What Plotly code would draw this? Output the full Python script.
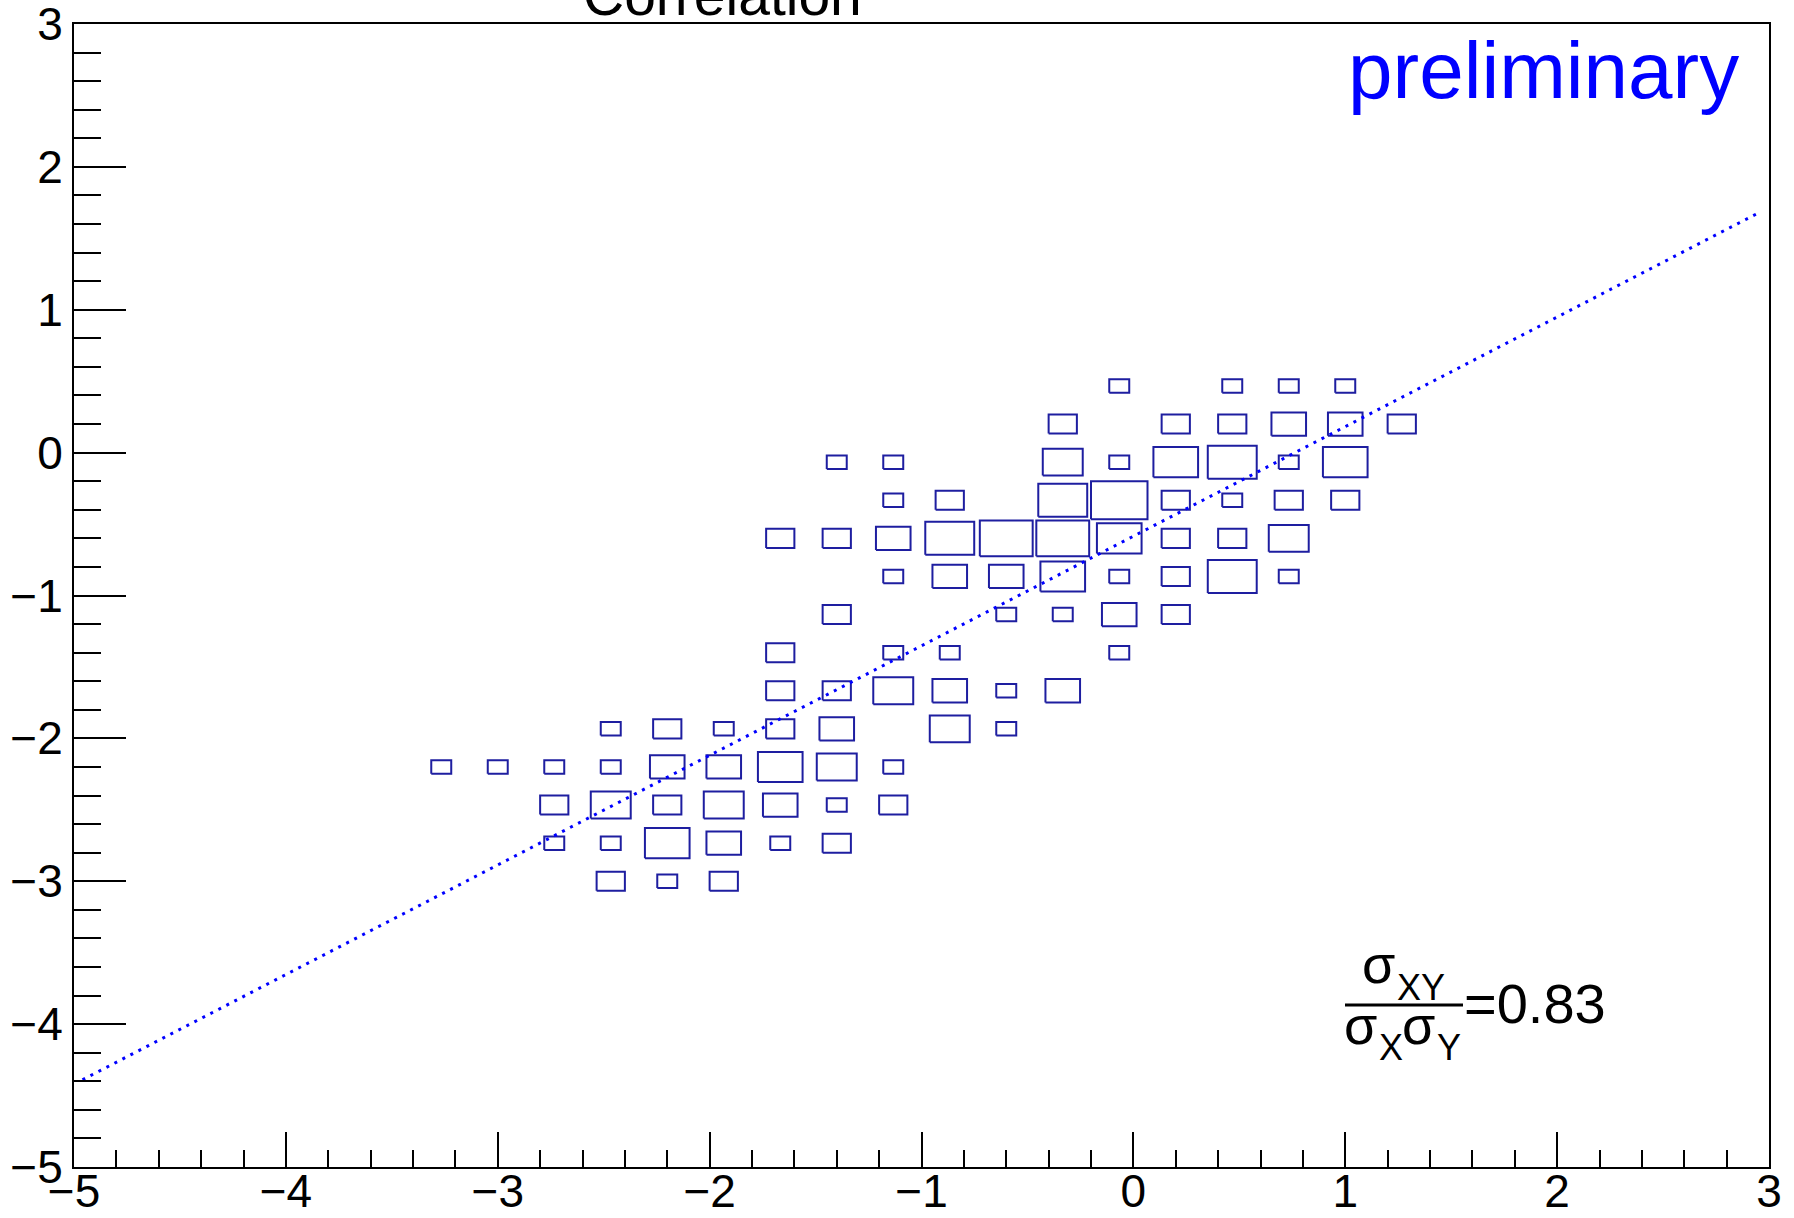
import plotly.graph_objects as go
import numpy as np

# ---- histogram binning (TH2, 30x30 bins on [-5,3] x [-5,3]) ----
n_bins = 30
axis_min, axis_max = -5.0, 3.0

# ---- bin contents (x-bin index, y-bin index, count) ----
bin_ix = [9, 10, 11,
          8, 9, 10, 11, 12, 13,
          8, 9, 10, 11, 12, 13, 14,
          6, 7, 8, 9, 10, 11, 12, 13, 14,
          9, 10, 11, 12, 13, 15, 16,
          12, 13, 14, 15, 16, 17,
          12, 14, 15, 18,
          13, 16, 17, 18, 19,
          14, 15, 16, 17, 18, 19, 20, 21,
          12, 13, 14, 15, 16, 17, 18, 19, 20, 21,
          14, 15, 17, 18, 19, 20, 21, 22,
          13, 14, 17, 18, 19, 20, 21, 22,
          17, 19, 20, 21, 22, 23,
          18, 20, 21, 22]
bin_iy = [7, 7, 7,
          8, 8, 8, 8, 8, 8,
          9, 9, 9, 9, 9, 9, 9,
          10, 10, 10, 10, 10, 10, 10, 10, 10,
          11, 11, 11, 11, 11, 11, 11,
          12, 12, 12, 12, 12, 12,
          13, 13, 13, 13,
          14, 14, 14, 14, 14,
          15, 15, 15, 15, 15, 15, 15, 15,
          16, 16, 16, 16, 16, 16, 16, 16, 16, 16,
          17, 17, 17, 17, 17, 17, 17, 17,
          18, 18, 18, 18, 18, 18, 18, 18,
          19, 19, 19, 19, 19, 19,
          20, 20, 20, 20]
bin_count = [2, 1, 2,
             1, 1, 5, 3, 1, 2,
             2, 4, 2, 4, 3, 1, 2,
             1, 1, 1, 1, 3, 3, 5, 4, 1,
             1, 2, 1, 2, 3, 4, 1,
             2, 2, 4, 3, 1, 3,
             2, 1, 1, 1,
             2, 1, 1, 3, 2,
             1, 3, 3, 5, 1, 2, 6, 1,
             2, 2, 3, 6, 7, 7, 5, 2, 2, 4,
             1, 2, 6, 8, 2, 1, 2, 2,
             1, 1, 4, 1, 5, 6, 1, 5,
             2, 2, 2, 3, 3, 2,
             1, 1, 1, 1]

# ---- linear fit drawn as dotted line ----
fit_slope = 0.767
fit_intercept = -0.585
fit_xmin, fit_xmax = -4.96, 2.96
corr_text = "=0.83"

# ---- figure geometry ----
W, H = 1794, 1218
ML, MR, MT, MB = 74, 25, 24, 51
PW, PH = W - ML - MR, H - MT - MB

BOX_COLOR = "rgb(30,30,160)"
FONT = "Liberation Sans, Arial, Helvetica, sans-serif"

bw = (axis_max - axis_min) / n_bins
cmax = max(bin_count)
xs, ys = [], []
for i, j, c in zip(bin_ix, bin_iy, bin_count):
    xc = axis_min + (i + 0.5) * bw
    yc = axis_min + (j + 0.5) * bw
    h = 0.5 * bw * np.sqrt(c / cmax)
    xs += [xc - h, xc + h, xc + h, xc - h, xc - h, None]
    ys += [yc - h, yc - h, yc + h, yc + h, yc - h, None]

fig = go.Figure()
fig.add_trace(go.Scatter(x=xs, y=ys, mode="lines",
                         line=dict(color=BOX_COLOR, width=2),
                         hoverinfo="skip", showlegend=False))

fx = np.array([fit_xmin, fit_xmax])
fy = fit_intercept + fit_slope * fx
fig.add_trace(go.Scatter(x=fx, y=fy, mode="lines",
                         line=dict(color="rgb(0,0,255)", width=3, dash="3px,6px"),
                         hoverinfo="skip", showlegend=False))


def px2paper(xp, yp):
    return (xp - ML) / PW, (MT + PH - yp) / PH


annotations = []


def place(text, x_px, base_px, size, color="black", xanchor="left"):
    bottom = base_px + 0.24 * size
    xp, yp = px2paper(x_px, bottom)
    annotations.append(dict(text=text, x=xp, y=yp, xref="paper", yref="paper",
                            xanchor=xanchor, yanchor="bottom", showarrow=False,
                            borderpad=0,
                            font=dict(family=FONT, size=size, color=color)))


# title (cut at the top of the canvas)
place("Correlation", 722, 14, 57, xanchor="center")
# preliminary
place("preliminary", 1347, 97, 80, color="rgb(0,0,255)")
# correlation fraction
place("σ", 1361, 982, 54)
place("XY", 1396, 1000, 36)
place("σ", 1343, 1043, 54)
place("X", 1378, 1060, 36)
place("σ", 1401, 1043, 54)
place("Y", 1436, 1060, 36)
place(corr_text, 1463, 1023, 56)

bx0, by0 = px2paper(1345, 1005)
bx1, _ = px2paper(1463, 1005)
fig.add_shape(type="line", xref="paper", yref="paper", x0=bx0, x1=bx1, y0=by0, y1=by0,
              line=dict(color="black", width=3))

axis_common = dict(range=[axis_min, axis_max], showgrid=False, zeroline=False,
                   showline=True, linecolor="black", linewidth=2, mirror=True,
                   ticks="inside", tickcolor="black", tickwidth=1.5, dtick=1,
                   automargin=False, ticklabeloverflow="allow",
                   tickfont=dict(family=FONT, size=46, color="black"))

fig.update_layout(
    width=W, height=H,
    margin=dict(l=ML, r=MR, t=MT, b=MB, autoexpand=False),
    paper_bgcolor="white", plot_bgcolor="white",
    xaxis=dict(**axis_common, ticklen=35, ticklabelstandoff=-17,
               minor=dict(dtick=0.2, ticks="inside", ticklen=17, tickcolor="black", tickwidth=1.5)),
    yaxis=dict(**axis_common, ticklen=52,
               minor=dict(dtick=0.2, ticks="inside", ticklen=27, tickcolor="black", tickwidth=1.5)),
    annotations=annotations,
)

fig.write_html("out.html", config={"displayModeBar": False},
               post_script="document.body.style.margin='0';document.body.style.overflow='hidden';")
